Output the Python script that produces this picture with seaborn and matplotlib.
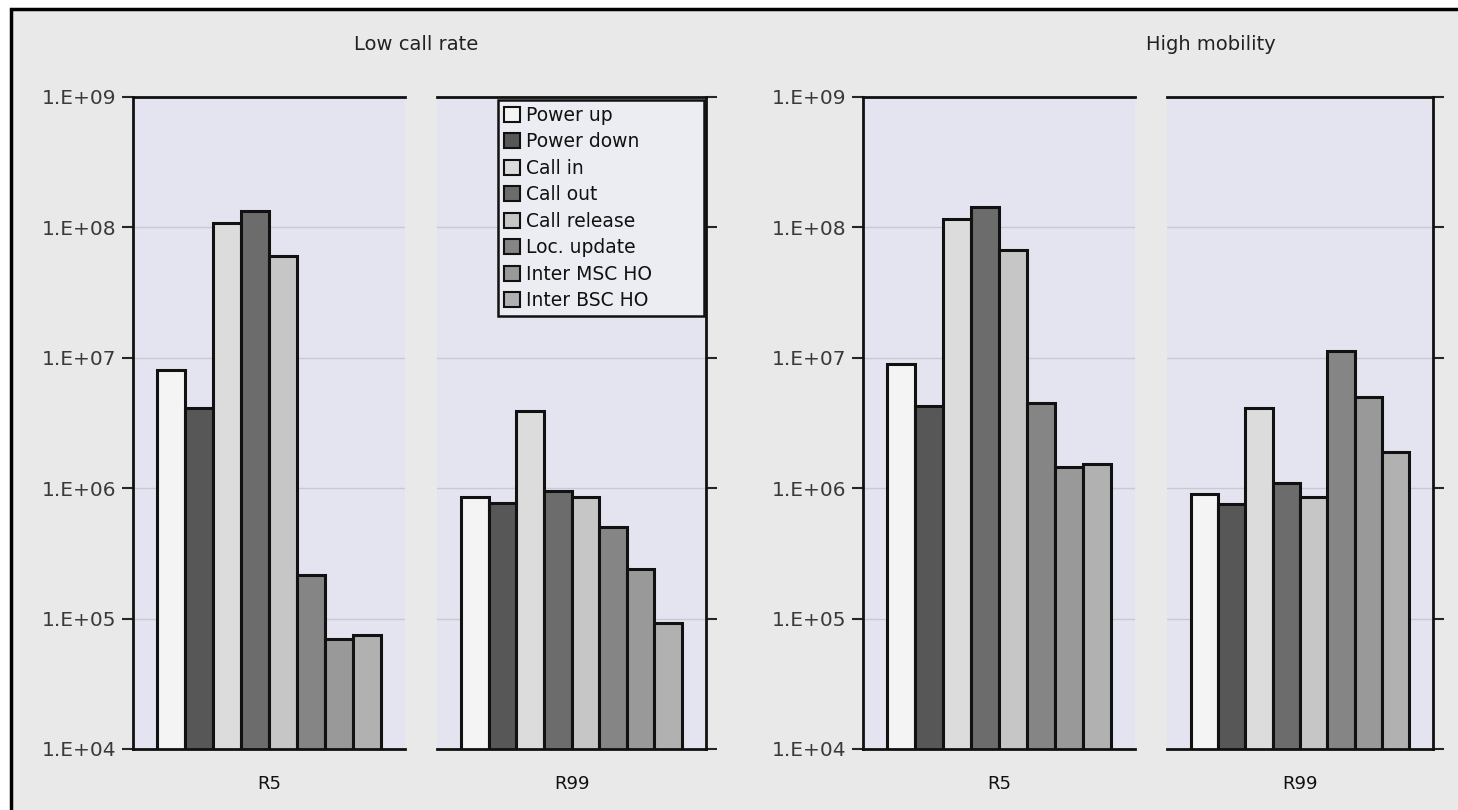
import numpy as np
import pandas as pd
import matplotlib
matplotlib.use('Agg')
import matplotlib.pyplot as plt
import seaborn as sns
from matplotlib.patches import Patch, Rectangle
from matplotlib.ticker import FixedLocator, FuncFormatter, NullLocator

# data
events = ['Power up', 'Power down', 'Call in', 'Call out', 'Call release',
          'Loc. update', 'Inter MSC HO', 'Inter BSC HO']
colors = ['#f4f4f4', '#575757', '#dcdcdc', '#6c6c6c', '#c6c6c6',
          '#858585', '#999999', '#b1b1b1']

low_r5 = [8.0e6, 4.1e6, 1.08e8, 1.34e8, 6.0e7, 2.15e5, 7.0e4, 7.5e4]
low_r99 = [8.5e5, 7.7e5, 3.9e6, 9.5e5, 8.5e5, 5.0e5, 2.4e5, 9.2e4]
high_r5 = [9.0e6, 4.3e6, 1.16e8, 1.43e8, 6.7e7, 4.5e6, 1.45e6, 1.53e6]
high_r99 = [9.0e5, 7.6e5, 4.1e6, 1.1e6, 8.5e5, 1.12e7, 5.0e6, 1.9e6]

scenarios = ['Low call rate', 'High mobility']
releases = ['R5', 'R99']

rows = []
for scen, rel, vals in [('Low call rate', 'R5', low_r5), ('Low call rate', 'R99', low_r99),
                        ('High mobility', 'R5', high_r5), ('High mobility', 'R99', high_r99)]:
    for ev, v in zip(events, vals):
        rows.append({'scenario': scen, 'release': rel, 'event': ev, 'value': v})
df = pd.DataFrame(rows)

palette = dict(zip(events, colors))

sns.set_style('white')
plt.rcParams['font.family'] = ['DejaVu Sans']

fig = plt.figure(figsize=(14.58, 8.1), dpi=100)
fig.patch.set_facecolor('white')

W, H = 1458.0, 810.0
# panel boxes in pixels: left, right
boxes = [(133, 405), (437, 706), (863, 1135), (1167, 1433)]
top_px, bot_px = 97, 749

# grey background with a frame that shows only on the top and left
fig.patches.append(Rectangle((11 / W, -0.05), 1.1, 1.05 - 9 / H,
                             transform=fig.transFigure, facecolor='#e9e9e9',
                             edgecolor='black', linewidth=2.5, zorder=-10))

fmt = FuncFormatter(lambda v, p: '1.E+%02d' % int(round(np.log10(v))))

axes = []
i = 0
for scen in scenarios:
    for rel in releases:
        l, r = boxes[i]
        ax = fig.add_axes([l / W, (H - bot_px) / H, (r - l) / W, (bot_px - top_px) / H])
        ax.set_facecolor('#e4e4f0')
        sub = df[(df['scenario'] == scen) & (df['release'] == rel)]
        sns.barplot(data=sub, x='release', y='value', hue='event', hue_order=events,
                    palette=palette, width=0.82, gap=0, edgecolor='#111111',
                    linewidth=2.2, saturation=1, legend=False, ax=ax)
        ax.set_yscale('log')
        ax.set_ylim(1e4, 1e9)
        ax.set_xlim(-0.5, 0.5)
        ax.yaxis.set_major_locator(FixedLocator([1e4, 1e5, 1e6, 1e7, 1e8, 1e9]))
        ax.yaxis.set_minor_locator(NullLocator())
        ax.yaxis.set_major_formatter(fmt)
        ax.grid(axis='y', color='#c9c9d2', linewidth=1)
        ax.set_axisbelow(True)
        ax.set_xlabel('')
        ax.set_ylabel('')
        ax.tick_params(axis='x', length=0, labelsize=13, pad=19, colors='#111111')
        for s in ax.spines.values():
            s.set_color('#111111')
            s.set_linewidth(2)
        if rel == 'R5':
            ax.spines['right'].set_visible(False)
            ax.tick_params(axis='y', left=True, right=False, length=8, width=1.5,
                           labelsize=14.5, labelcolor='#3a3a3a', pad=4)
        else:
            ax.spines['left'].set_visible(False)
            ax.yaxis.tick_right()
            ax.tick_params(axis='y', left=False, right=True, labelright=False,
                           labelleft=False, length=8, width=1.5)
        axes.append(ax)
        i += 1

# legend inside second panel
handles = [Patch(facecolor=c, edgecolor='#111111', linewidth=1.5, label=e)
           for e, c in zip(events, colors)]
lx0 = (498 - 437) / 269.0
lw = (704 - 498) / 269.0
leg = axes[1].legend(handles=handles, loc='upper left',
                     bbox_to_anchor=(lx0, 0.995, lw, 0.0), mode='expand',
                     frameon=True, fancybox=False, fontsize=13.5, handlelength=0.85,
                     handleheight=0.85, handletextpad=0.35, labelspacing=0.4,
                     borderpad=0.3, borderaxespad=0)
leg.get_frame().set_edgecolor('#111111')
leg.get_frame().set_linewidth(1.8)
leg.get_frame().set_facecolor('#ececf3')
leg.get_frame().set_alpha(1)
for t in leg.get_texts():
    t.set_color('#111111')

fig.text(416 / W, 1 - 45 / H, 'Low call rate', ha='center', va='center',
         fontsize=14, color='#222222')
fig.text(1211 / W, 1 - 45 / H, 'High mobility', ha='center', va='center',
         fontsize=14, color='#222222')

fig.savefig('out.png', dpi=100, facecolor=fig.get_facecolor())
